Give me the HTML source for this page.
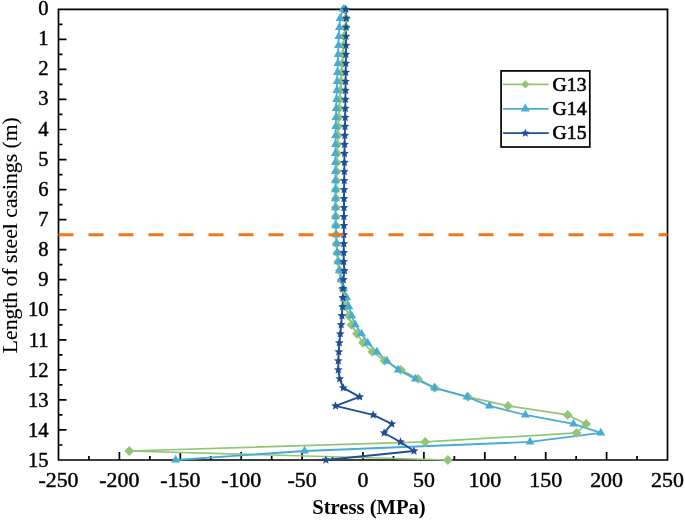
<!DOCTYPE html><html><head><meta charset="utf-8"><style>html,body{margin:0;padding:0;background:#fff;}svg{display:block;}text{font-family:"Liberation Serif",serif;fill:#000;}</style></head><body>
<svg width="685" height="520" viewBox="0 0 685 520">
<rect width="685" height="520" fill="#fff"/>
<path d="M58.5,9.3H667.5V460.0H58.5Z" fill="none" stroke="#000" stroke-width="1.7" stroke-linejoin="miter"/>
<path d="M88.95,460.0V456.0M119.40,460.0V452.0M149.85,460.0V456.0M180.30,460.0V452.0M210.75,460.0V456.0M241.20,460.0V452.0M271.65,460.0V456.0M302.10,460.0V452.0M332.55,460.0V456.0M363.00,460.0V452.0M393.45,460.0V456.0M423.90,460.0V452.0M454.35,460.0V456.0M484.80,460.0V452.0M515.25,460.0V456.0M545.70,460.0V452.0M576.15,460.0V456.0M606.60,460.0V452.0M637.05,460.0V456.0M58.5,24.32H62.5M58.5,39.35H66.5M58.5,54.37H62.5M58.5,69.39H66.5M58.5,84.42H62.5M58.5,99.44H66.5M58.5,114.46H62.5M58.5,129.49H66.5M58.5,144.51H62.5M58.5,159.53H66.5M58.5,174.56H62.5M58.5,189.58H66.5M58.5,204.60H62.5M58.5,219.63H66.5M58.5,234.65H62.5M58.5,249.67H66.5M58.5,264.70H62.5M58.5,279.72H66.5M58.5,294.74H62.5M58.5,309.77H66.5M58.5,324.79H62.5M58.5,339.81H66.5M58.5,354.84H62.5M58.5,369.86H66.5M58.5,384.88H62.5M58.5,399.91H66.5M58.5,414.93H62.5M58.5,429.95H66.5M58.5,444.98H62.5" stroke="#000" stroke-width="1.7" fill="none"/>
<polyline points="344.50,9.30 346.00,18.31 345.50,27.33 344.00,36.34 343.50,45.36 343.00,54.37 342.30,63.38 341.70,72.40 341.00,81.41 340.40,90.43 339.80,99.44 339.20,108.45 338.60,117.47 338.20,126.48 337.80,135.50 337.50,144.51 337.20,153.52 336.90,162.54 336.60,171.55 336.30,180.57 336.10,189.58 335.90,198.59 335.80,207.61 335.80,216.62 335.90,225.64 336.10,234.65 336.60,243.66 337.30,252.68 338.30,261.69 339.90,270.71 341.50,279.72 343.00,288.73 344.20,297.75 346.00,306.76 348.70,315.78 351.50,324.79 356.90,333.80 363.00,342.82 372.30,351.83 384.60,360.85 400.80,369.86 418.00,378.87 434.60,387.89 468.00,396.90 508.00,405.92 567.70,414.93 586.20,423.94 576.60,432.96 425.10,441.97 129.30,450.99 447.90,460.00" fill="none" stroke="#92c676" stroke-width="1.7" stroke-linejoin="round"/>
<polyline points="343.20,9.30 340.00,18.31 339.30,27.33 338.80,36.34 338.40,45.36 338.10,54.37 337.80,63.38 337.40,72.40 337.10,81.41 336.80,90.43 336.50,99.44 336.20,108.45 336.00,117.47 335.80,126.48 335.60,135.50 335.50,144.51 335.40,153.52 335.40,162.54 335.40,171.55 335.40,180.57 335.40,189.58 335.40,198.59 335.40,207.61 335.50,216.62 335.70,225.64 336.10,234.65 336.60,243.66 337.20,252.68 338.00,261.69 339.30,270.71 341.10,279.72 343.50,288.73 346.70,297.75 348.80,306.76 351.70,315.78 355.40,324.79 361.50,333.80 367.70,342.82 376.90,351.83 386.90,360.85 398.20,369.86 415.40,378.87 434.60,387.89 467.10,396.90 489.40,405.92 525.40,414.93 573.50,423.94 600.80,432.96 530.00,441.97 304.50,450.99 175.60,460.00" fill="none" stroke="#48acd2" stroke-width="1.8" stroke-linejoin="round"/>
<polyline points="345.80,9.30 346.20,18.31 346.10,27.33 346.00,36.34 346.00,45.36 345.90,54.37 345.80,63.38 345.70,72.40 345.60,81.41 345.50,90.43 345.40,99.44 345.30,108.45 345.20,117.47 345.00,126.48 344.80,135.50 344.60,144.51 344.50,153.52 344.40,162.54 344.30,171.55 344.20,180.57 344.10,189.58 344.00,198.59 344.00,207.61 343.90,216.62 343.90,225.64 343.80,234.65 343.80,243.66 343.75,252.68 343.70,261.69 344.40,270.71 343.40,279.72 343.00,288.73 342.90,297.75 342.50,306.76 341.90,315.78 341.20,324.79 340.30,333.80 339.30,342.82 338.80,351.83 338.30,360.85 338.30,369.86 339.70,378.87 343.30,387.89 359.70,396.90 335.50,405.92 373.10,414.93 391.80,423.94 384.10,432.96 400.50,441.97 414.00,450.99 325.90,460.00" fill="none" stroke="#1f4e96" stroke-width="1.9" stroke-linejoin="round"/>
<path d="M344.50,4.40L349.40,9.30L344.50,14.20L339.60,9.30ZM346.00,13.41L350.90,18.31L346.00,23.21L341.10,18.31ZM345.50,22.43L350.40,27.33L345.50,32.23L340.60,27.33ZM344.00,31.44L348.90,36.34L344.00,41.24L339.10,36.34ZM343.50,40.46L348.40,45.36L343.50,50.26L338.60,45.36ZM343.00,49.47L347.90,54.37L343.00,59.27L338.10,54.37ZM342.30,58.48L347.20,63.38L342.30,68.28L337.40,63.38ZM341.70,67.50L346.60,72.40L341.70,77.30L336.80,72.40ZM341.00,76.51L345.90,81.41L341.00,86.31L336.10,81.41ZM340.40,85.53L345.30,90.43L340.40,95.33L335.50,90.43ZM339.80,94.54L344.70,99.44L339.80,104.34L334.90,99.44ZM339.20,103.55L344.10,108.45L339.20,113.35L334.30,108.45ZM338.60,112.57L343.50,117.47L338.60,122.37L333.70,117.47ZM338.20,121.58L343.10,126.48L338.20,131.38L333.30,126.48ZM337.80,130.60L342.70,135.50L337.80,140.40L332.90,135.50ZM337.50,139.61L342.40,144.51L337.50,149.41L332.60,144.51ZM337.20,148.62L342.10,153.52L337.20,158.42L332.30,153.52ZM336.90,157.64L341.80,162.54L336.90,167.44L332.00,162.54ZM336.60,166.65L341.50,171.55L336.60,176.45L331.70,171.55ZM336.30,175.67L341.20,180.57L336.30,185.47L331.40,180.57ZM336.10,184.68L341.00,189.58L336.10,194.48L331.20,189.58ZM335.90,193.69L340.80,198.59L335.90,203.49L331.00,198.59ZM335.80,202.71L340.70,207.61L335.80,212.51L330.90,207.61ZM335.80,211.72L340.70,216.62L335.80,221.52L330.90,216.62ZM335.90,220.74L340.80,225.64L335.90,230.54L331.00,225.64ZM336.10,229.75L341.00,234.65L336.10,239.55L331.20,234.65ZM336.60,238.76L341.50,243.66L336.60,248.56L331.70,243.66ZM337.30,247.78L342.20,252.68L337.30,257.58L332.40,252.68ZM338.30,256.79L343.20,261.69L338.30,266.59L333.40,261.69ZM339.90,265.81L344.80,270.71L339.90,275.61L335.00,270.71ZM341.50,274.82L346.40,279.72L341.50,284.62L336.60,279.72ZM343.00,283.83L347.90,288.73L343.00,293.63L338.10,288.73ZM344.20,292.85L349.10,297.75L344.20,302.65L339.30,297.75ZM346.00,301.86L350.90,306.76L346.00,311.66L341.10,306.76ZM348.70,310.88L353.60,315.78L348.70,320.68L343.80,315.78ZM351.50,319.89L356.40,324.79L351.50,329.69L346.60,324.79ZM356.90,328.90L361.80,333.80L356.90,338.70L352.00,333.80ZM363.00,337.92L367.90,342.82L363.00,347.72L358.10,342.82ZM372.30,346.93L377.20,351.83L372.30,356.73L367.40,351.83ZM384.60,355.95L389.50,360.85L384.60,365.75L379.70,360.85ZM400.80,364.96L405.70,369.86L400.80,374.76L395.90,369.86ZM418.00,373.97L422.90,378.87L418.00,383.77L413.10,378.87ZM434.60,382.99L439.50,387.89L434.60,392.79L429.70,387.89ZM468.00,392.00L472.90,396.90L468.00,401.80L463.10,396.90ZM508.00,401.02L512.90,405.92L508.00,410.82L503.10,405.92ZM567.70,410.03L572.60,414.93L567.70,419.83L562.80,414.93ZM586.20,419.04L591.10,423.94L586.20,428.84L581.30,423.94ZM576.60,428.06L581.50,432.96L576.60,437.86L571.70,432.96ZM425.10,437.07L430.00,441.97L425.10,446.87L420.20,441.97ZM129.30,446.09L134.20,450.99L129.30,455.89L124.40,450.99ZM447.90,455.10L452.80,460.00L447.90,464.90L443.00,460.00Z" fill="#92c676"/>
<path d="M343.20,4.16L347.65,11.87L338.75,11.87ZM340.00,13.18L344.45,20.88L335.55,20.88ZM339.30,22.19L343.75,29.90L334.85,29.90ZM338.80,31.20L343.25,38.91L334.35,38.91ZM338.40,40.22L342.85,47.93L333.95,47.93ZM338.10,49.23L342.55,56.94L333.65,56.94ZM337.80,58.25L342.25,65.95L333.35,65.95ZM337.40,67.26L341.85,74.97L332.95,74.97ZM337.10,76.27L341.55,83.98L332.65,83.98ZM336.80,85.29L341.25,93.00L332.35,93.00ZM336.50,94.30L340.95,102.01L332.05,102.01ZM336.20,103.32L340.65,111.02L331.75,111.02ZM336.00,112.33L340.45,120.04L331.55,120.04ZM335.80,121.34L340.25,129.05L331.35,129.05ZM335.60,130.36L340.05,138.07L331.15,138.07ZM335.50,139.37L339.95,147.08L331.05,147.08ZM335.40,148.39L339.85,156.09L330.95,156.09ZM335.40,157.40L339.85,165.11L330.95,165.11ZM335.40,166.41L339.85,174.12L330.95,174.12ZM335.40,175.43L339.85,183.14L330.95,183.14ZM335.40,184.44L339.85,192.15L330.95,192.15ZM335.40,193.46L339.85,201.16L330.95,201.16ZM335.40,202.47L339.85,210.18L330.95,210.18ZM335.50,211.48L339.95,219.19L331.05,219.19ZM335.70,220.50L340.15,228.21L331.25,228.21ZM336.10,229.51L340.55,237.22L331.65,237.22ZM336.60,238.53L341.05,246.23L332.15,246.23ZM337.20,247.54L341.65,255.25L332.75,255.25ZM338.00,256.55L342.45,264.26L333.55,264.26ZM339.30,265.57L343.75,273.28L334.85,273.28ZM341.10,274.58L345.55,282.29L336.65,282.29ZM343.50,283.60L347.95,291.30L339.05,291.30ZM346.70,292.61L351.15,300.32L342.25,300.32ZM348.80,301.62L353.25,309.33L344.35,309.33ZM351.70,310.64L356.15,318.35L347.25,318.35ZM355.40,319.65L359.85,327.36L350.95,327.36ZM361.50,328.67L365.95,336.37L357.05,336.37ZM367.70,337.68L372.15,345.39L363.25,345.39ZM376.90,346.69L381.35,354.40L372.45,354.40ZM386.90,355.71L391.35,363.42L382.45,363.42ZM398.20,364.72L402.65,372.43L393.75,372.43ZM415.40,373.74L419.85,381.44L410.95,381.44ZM434.60,382.75L439.05,390.46L430.15,390.46ZM467.10,391.76L471.55,399.47L462.65,399.47ZM489.40,400.78L493.85,408.49L484.95,408.49ZM525.40,409.79L529.85,417.50L520.95,417.50ZM573.50,418.81L577.95,426.51L569.05,426.51ZM600.80,427.82L605.25,435.53L596.35,435.53ZM530.00,436.83L534.45,444.54L525.55,444.54ZM304.50,445.85L308.95,453.56L300.05,453.56ZM175.60,454.86L180.05,462.57L171.15,462.57Z" fill="#48acd2"/>
<path d="M345.80,4.70L347.02,7.63L350.17,7.88L347.77,9.94L348.50,13.02L345.80,11.37L343.10,13.02L343.83,9.94L341.43,7.88L344.58,7.63ZM346.20,13.71L347.42,16.64L350.57,16.89L348.17,18.95L348.90,22.04L346.20,20.38L343.50,22.04L344.23,18.95L341.83,16.89L344.98,16.64ZM346.10,22.73L347.32,25.65L350.47,25.91L348.07,27.97L348.80,31.05L346.10,29.40L343.40,31.05L344.13,27.97L341.73,25.91L344.88,25.65ZM346.00,31.74L347.22,34.67L350.37,34.92L347.97,36.98L348.70,40.06L346.00,38.41L343.30,40.06L344.03,36.98L341.63,34.92L344.78,34.67ZM346.00,40.76L347.22,43.68L350.37,43.93L347.97,46.00L348.70,49.08L346.00,47.43L343.30,49.08L344.03,46.00L341.63,43.93L344.78,43.68ZM345.90,49.77L347.12,52.70L350.27,52.95L347.87,55.01L348.60,58.09L345.90,56.44L343.20,58.09L343.93,55.01L341.53,52.95L344.68,52.70ZM345.80,58.78L347.02,61.71L350.17,61.96L347.77,64.02L348.50,67.11L345.80,65.45L343.10,67.11L343.83,64.02L341.43,61.96L344.58,61.71ZM345.70,67.80L346.92,70.72L350.07,70.98L347.67,73.04L348.40,76.12L345.70,74.47L343.00,76.12L343.73,73.04L341.33,70.98L344.48,70.72ZM345.60,76.81L346.82,79.74L349.97,79.99L347.57,82.05L348.30,85.13L345.60,83.48L342.90,85.13L343.63,82.05L341.23,79.99L344.38,79.74ZM345.50,85.83L346.72,88.75L349.87,89.00L347.47,91.07L348.20,94.15L345.50,92.50L342.80,94.15L343.53,91.07L341.13,89.00L344.28,88.75ZM345.40,94.84L346.62,97.77L349.77,98.02L347.37,100.08L348.10,103.16L345.40,101.51L342.70,103.16L343.43,100.08L341.03,98.02L344.18,97.77ZM345.30,103.85L346.52,106.78L349.67,107.03L347.27,109.09L348.00,112.18L345.30,110.52L342.60,112.18L343.33,109.09L340.93,107.03L344.08,106.78ZM345.20,112.87L346.42,115.79L349.57,116.05L347.17,118.11L347.90,121.19L345.20,119.54L342.50,121.19L343.23,118.11L340.83,116.05L343.98,115.79ZM345.00,121.88L346.22,124.81L349.37,125.06L346.97,127.12L347.70,130.20L345.00,128.55L342.30,130.20L343.03,127.12L340.63,125.06L343.78,124.81ZM344.80,130.90L346.02,133.82L349.17,134.07L346.77,136.14L347.50,139.22L344.80,137.57L342.10,139.22L342.83,136.14L340.43,134.07L343.58,133.82ZM344.60,139.91L345.82,142.84L348.97,143.09L346.57,145.15L347.30,148.23L344.60,146.58L341.90,148.23L342.63,145.15L340.23,143.09L343.38,142.84ZM344.50,148.92L345.72,151.85L348.87,152.10L346.47,154.16L347.20,157.25L344.50,155.59L341.80,157.25L342.53,154.16L340.13,152.10L343.28,151.85ZM344.40,157.94L345.62,160.86L348.77,161.12L346.37,163.18L347.10,166.26L344.40,164.61L341.70,166.26L342.43,163.18L340.03,161.12L343.18,160.86ZM344.30,166.95L345.52,169.88L348.67,170.13L346.27,172.19L347.00,175.27L344.30,173.62L341.60,175.27L342.33,172.19L339.93,170.13L343.08,169.88ZM344.20,175.97L345.42,178.89L348.57,179.14L346.17,181.21L346.90,184.29L344.20,182.64L341.50,184.29L342.23,181.21L339.83,179.14L342.98,178.89ZM344.10,184.98L345.32,187.91L348.47,188.16L346.07,190.22L346.80,193.30L344.10,191.65L341.40,193.30L342.13,190.22L339.73,188.16L342.88,187.91ZM344.00,193.99L345.22,196.92L348.37,197.17L345.97,199.23L346.70,202.32L344.00,200.66L341.30,202.32L342.03,199.23L339.63,197.17L342.78,196.92ZM344.00,203.01L345.22,205.93L348.37,206.19L345.97,208.25L346.70,211.33L344.00,209.68L341.30,211.33L342.03,208.25L339.63,206.19L342.78,205.93ZM343.90,212.02L345.12,214.95L348.27,215.20L345.87,217.26L346.60,220.34L343.90,218.69L341.20,220.34L341.93,217.26L339.53,215.20L342.68,214.95ZM343.90,221.04L345.12,223.96L348.27,224.21L345.87,226.28L346.60,229.36L343.90,227.71L341.20,229.36L341.93,226.28L339.53,224.21L342.68,223.96ZM343.80,230.05L345.02,232.98L348.17,233.23L345.77,235.29L346.50,238.37L343.80,236.72L341.10,238.37L341.83,235.29L339.43,233.23L342.58,232.98ZM343.80,239.06L345.02,241.99L348.17,242.24L345.77,244.30L346.50,247.39L343.80,245.73L341.10,247.39L341.83,244.30L339.43,242.24L342.58,241.99ZM343.75,248.08L344.97,251.00L348.12,251.26L345.72,253.32L346.45,256.40L343.75,254.75L341.05,256.40L341.78,253.32L339.38,251.26L342.53,251.00ZM343.70,257.09L344.92,260.02L348.07,260.27L345.67,262.33L346.40,265.41L343.70,263.76L341.00,265.41L341.73,262.33L339.33,260.27L342.48,260.02ZM344.40,266.11L345.62,269.03L348.77,269.28L346.37,271.35L347.10,274.43L344.40,272.78L341.70,274.43L342.43,271.35L340.03,269.28L343.18,269.03ZM343.40,275.12L344.62,278.05L347.77,278.30L345.37,280.36L346.10,283.44L343.40,281.79L340.70,283.44L341.43,280.36L339.03,278.30L342.18,278.05ZM343.00,284.13L344.22,287.06L347.37,287.31L344.97,289.37L345.70,292.46L343.00,290.80L340.30,292.46L341.03,289.37L338.63,287.31L341.78,287.06ZM342.90,293.15L344.12,296.07L347.27,296.33L344.87,298.39L345.60,301.47L342.90,299.82L340.20,301.47L340.93,298.39L338.53,296.33L341.68,296.07ZM342.50,302.16L343.72,305.09L346.87,305.34L344.47,307.40L345.20,310.48L342.50,308.83L339.80,310.48L340.53,307.40L338.13,305.34L341.28,305.09ZM341.90,311.18L343.12,314.10L346.27,314.35L343.87,316.42L344.60,319.50L341.90,317.85L339.20,319.50L339.93,316.42L337.53,314.35L340.68,314.10ZM341.20,320.19L342.42,323.12L345.57,323.37L343.17,325.43L343.90,328.51L341.20,326.86L338.50,328.51L339.23,325.43L336.83,323.37L339.98,323.12ZM340.30,329.20L341.52,332.13L344.67,332.38L342.27,334.44L343.00,337.53L340.30,335.87L337.60,337.53L338.33,334.44L335.93,332.38L339.08,332.13ZM339.30,338.22L340.52,341.14L343.67,341.40L341.27,343.46L342.00,346.54L339.30,344.89L336.60,346.54L337.33,343.46L334.93,341.40L338.08,341.14ZM338.80,347.23L340.02,350.16L343.17,350.41L340.77,352.47L341.50,355.55L338.80,353.90L336.10,355.55L336.83,352.47L334.43,350.41L337.58,350.16ZM338.30,356.25L339.52,359.17L342.67,359.42L340.27,361.49L341.00,364.57L338.30,362.92L335.60,364.57L336.33,361.49L333.93,359.42L337.08,359.17ZM338.30,365.26L339.52,368.19L342.67,368.44L340.27,370.50L341.00,373.58L338.30,371.93L335.60,373.58L336.33,370.50L333.93,368.44L337.08,368.19ZM339.70,374.27L340.92,377.20L344.07,377.45L341.67,379.51L342.40,382.60L339.70,380.94L337.00,382.60L337.73,379.51L335.33,377.45L338.48,377.20ZM343.30,383.29L344.52,386.21L347.67,386.47L345.27,388.53L346.00,391.61L343.30,389.96L340.60,391.61L341.33,388.53L338.93,386.47L342.08,386.21ZM359.70,392.30L360.92,395.23L364.07,395.48L361.67,397.54L362.40,400.62L359.70,398.97L357.00,400.62L357.73,397.54L355.33,395.48L358.48,395.23ZM335.50,401.32L336.72,404.24L339.87,404.49L337.47,406.56L338.20,409.64L335.50,407.99L332.80,409.64L333.53,406.56L331.13,404.49L334.28,404.24ZM373.10,410.33L374.32,413.26L377.47,413.51L375.07,415.57L375.80,418.65L373.10,417.00L370.40,418.65L371.13,415.57L368.73,413.51L371.88,413.26ZM391.80,419.34L393.02,422.27L396.17,422.52L393.77,424.58L394.50,427.67L391.80,426.01L389.10,427.67L389.83,424.58L387.43,422.52L390.58,422.27ZM384.10,428.36L385.32,431.28L388.47,431.54L386.07,433.60L386.80,436.68L384.10,435.03L381.40,436.68L382.13,433.60L379.73,431.54L382.88,431.28ZM400.50,437.37L401.72,440.30L404.87,440.55L402.47,442.61L403.20,445.69L400.50,444.04L397.80,445.69L398.53,442.61L396.13,440.55L399.28,440.30ZM414.00,446.39L415.22,449.31L418.37,449.56L415.97,451.63L416.70,454.71L414.00,453.06L411.30,454.71L412.03,451.63L409.63,449.56L412.78,449.31ZM325.90,455.40L327.12,458.33L330.27,458.58L327.87,460.64L328.60,463.72L325.90,462.07L323.20,463.72L323.93,460.64L321.53,458.58L324.68,458.33Z" fill="#1f4e96"/>
<line x1="58.5" y1="234.65" x2="667.5" y2="234.65" stroke="#ee781e" stroke-width="3" stroke-dasharray="15 15"/>
<text x="58.50" y="487.2" font-size="21.9" text-anchor="middle" stroke="#000" stroke-width="0.45">-250</text>
<text x="119.40" y="487.2" font-size="21.9" text-anchor="middle" stroke="#000" stroke-width="0.45">-200</text>
<text x="180.30" y="487.2" font-size="21.9" text-anchor="middle" stroke="#000" stroke-width="0.45">-150</text>
<text x="241.20" y="487.2" font-size="21.9" text-anchor="middle" stroke="#000" stroke-width="0.45">-100</text>
<text x="302.10" y="487.2" font-size="21.9" text-anchor="middle" stroke="#000" stroke-width="0.45">-50</text>
<text x="363.00" y="487.2" font-size="21.9" text-anchor="middle" stroke="#000" stroke-width="0.45">0</text>
<text x="423.90" y="487.2" font-size="21.9" text-anchor="middle" stroke="#000" stroke-width="0.45">50</text>
<text x="484.80" y="487.2" font-size="21.9" text-anchor="middle" stroke="#000" stroke-width="0.45">100</text>
<text x="545.70" y="487.2" font-size="21.9" text-anchor="middle" stroke="#000" stroke-width="0.45">150</text>
<text x="606.60" y="487.2" font-size="21.9" text-anchor="middle" stroke="#000" stroke-width="0.45">200</text>
<text x="667.50" y="487.2" font-size="21.9" text-anchor="middle" stroke="#000" stroke-width="0.45">250</text>
<text x="48.6" y="15.10" font-size="20.6" text-anchor="end" stroke="#000" stroke-width="0.45">0</text>
<text x="48.6" y="45.23" font-size="20.6" text-anchor="end" stroke="#000" stroke-width="0.45">1</text>
<text x="48.6" y="75.36" font-size="20.6" text-anchor="end" stroke="#000" stroke-width="0.45">2</text>
<text x="48.6" y="105.49" font-size="20.6" text-anchor="end" stroke="#000" stroke-width="0.45">3</text>
<text x="48.6" y="135.63" font-size="20.6" text-anchor="end" stroke="#000" stroke-width="0.45">4</text>
<text x="48.6" y="165.76" font-size="20.6" text-anchor="end" stroke="#000" stroke-width="0.45">5</text>
<text x="48.6" y="195.89" font-size="20.6" text-anchor="end" stroke="#000" stroke-width="0.45">6</text>
<text x="48.6" y="226.02" font-size="20.6" text-anchor="end" stroke="#000" stroke-width="0.45">7</text>
<text x="48.6" y="256.15" font-size="20.6" text-anchor="end" stroke="#000" stroke-width="0.45">8</text>
<text x="48.6" y="286.28" font-size="20.6" text-anchor="end" stroke="#000" stroke-width="0.45">9</text>
<text x="48.6" y="316.42" font-size="20.6" text-anchor="end" stroke="#000" stroke-width="0.45">10</text>
<text x="48.6" y="346.55" font-size="20.6" text-anchor="end" stroke="#000" stroke-width="0.45">11</text>
<text x="48.6" y="376.68" font-size="20.6" text-anchor="end" stroke="#000" stroke-width="0.45">12</text>
<text x="48.6" y="406.81" font-size="20.6" text-anchor="end" stroke="#000" stroke-width="0.45">13</text>
<text x="48.6" y="436.94" font-size="20.6" text-anchor="end" stroke="#000" stroke-width="0.45">14</text>
<text x="48.6" y="467.07" font-size="20.6" text-anchor="end" stroke="#000" stroke-width="0.45">15</text>
<text x="369" y="514" font-size="20.6" font-weight="bold" text-anchor="middle">Stress (MPa)</text>
<text transform="translate(16.9,235.2) rotate(-90)" font-size="21.7" text-anchor="middle" stroke="#000" stroke-width="0.15">Length of steel casings (m)</text>
<rect x="501.1" y="70.9" width="88.7" height="76.1" fill="#fff" stroke="#000" stroke-width="1.7"/>
<line x1="503" y1="84.40" x2="548.7" y2="84.40" stroke="#92c676" stroke-width="1.8"/>
<path d="M525.30,80.30L529.40,84.40L525.30,88.50L521.20,84.40Z" fill="#92c676"/>
<text x="552.6" y="90.50" font-size="19.7" stroke="#000" stroke-width="0.65">G13</text>
<line x1="503" y1="108.80" x2="548.7" y2="108.80" stroke="#48acd2" stroke-width="1.8"/>
<path d="M525.30,103.60L529.80,111.40L520.80,111.40Z" fill="#48acd2"/>
<text x="552.6" y="114.90" font-size="19.7" stroke="#000" stroke-width="0.65">G14</text>
<line x1="503" y1="133.20" x2="548.7" y2="133.20" stroke="#1f4e96" stroke-width="1.8"/>
<path d="M525.30,128.80L526.46,131.60L529.48,131.84L527.18,133.81L527.89,136.76L525.30,135.18L522.71,136.76L523.42,133.81L521.12,131.84L524.14,131.60Z" fill="#1f4e96"/>
<text x="552.6" y="139.30" font-size="19.7" stroke="#000" stroke-width="0.65">G15</text>
</svg></body></html>
